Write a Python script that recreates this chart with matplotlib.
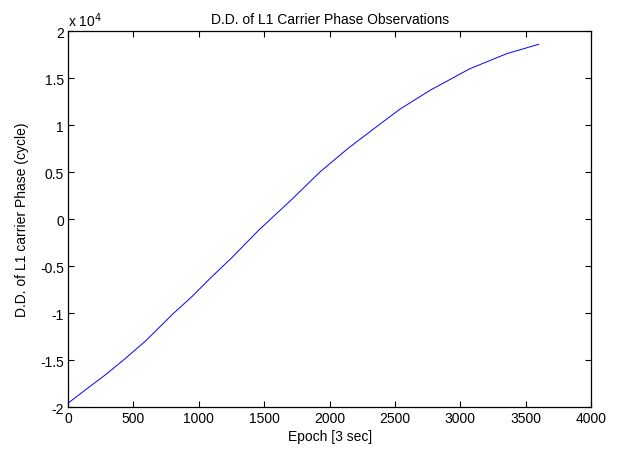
import matplotlib
matplotlib.use('Agg')
import matplotlib.pyplot as plt
from matplotlib.ticker import FuncFormatter

# D.D. carrier phase values (cycles)
epoch = [0, 138, 291, 431, 597, 800, 953, 1086, 1252, 1456, 1711, 1927,
         2143, 2334, 2538, 2768, 3073, 3355, 3600]
phase = [-19570, -18100, -16500, -14900, -12900, -10100, -8160, -6300,
         -4100, -1200, 2100, 5030, 7550, 9570, 11700, 13700, 16000, 17600,
         18600]

xticks = [0, 500, 1000, 1500, 2000, 2500, 3000, 3500, 4000]
yticks = [-20000, -15000, -10000, -5000, 0, 5000, 10000, 15000, 20000]

plt.rcParams['font.family'] = ['Liberation Sans', 'DejaVu Sans']
plt.rcParams['axes.unicode_minus'] = False

fig = plt.figure(figsize=(6.19, 4.52), dpi=100)
ax = fig.add_axes([0.110, 0.097, 0.845, 0.832])

ax.plot(epoch, phase, color='#0000ff', lw=0.7)

ax.set_xlim(0, 4000)
ax.set_ylim(-20000, 20000)
ax.set_xticks(xticks)
ax.set_yticks(yticks)
ax.yaxis.set_major_formatter(FuncFormatter(lambda v, p: '%g' % (v / 1e4)))
ax.tick_params(direction='in', length=4, width=0.8, top=True, right=True,
               labelsize=10, colors='black', pad=3)
for s in ax.spines.values():
    s.set_linewidth(0.9)

ax.text(0.0, 1.005, r'x 10$^4$', transform=ax.transAxes, fontsize=10,
        ha='left', va='bottom')

ax.set_title('D.D. of L1 Carrier Phase Observations', fontsize=10, pad=6)
ax.set_xlabel('Epoch [3 sec]', fontsize=10, labelpad=3)
ax.set_ylabel('D.D. of L1 carrier Phase (cycle)', fontsize=10, labelpad=8)

fig.savefig('out.png', dpi=100)
